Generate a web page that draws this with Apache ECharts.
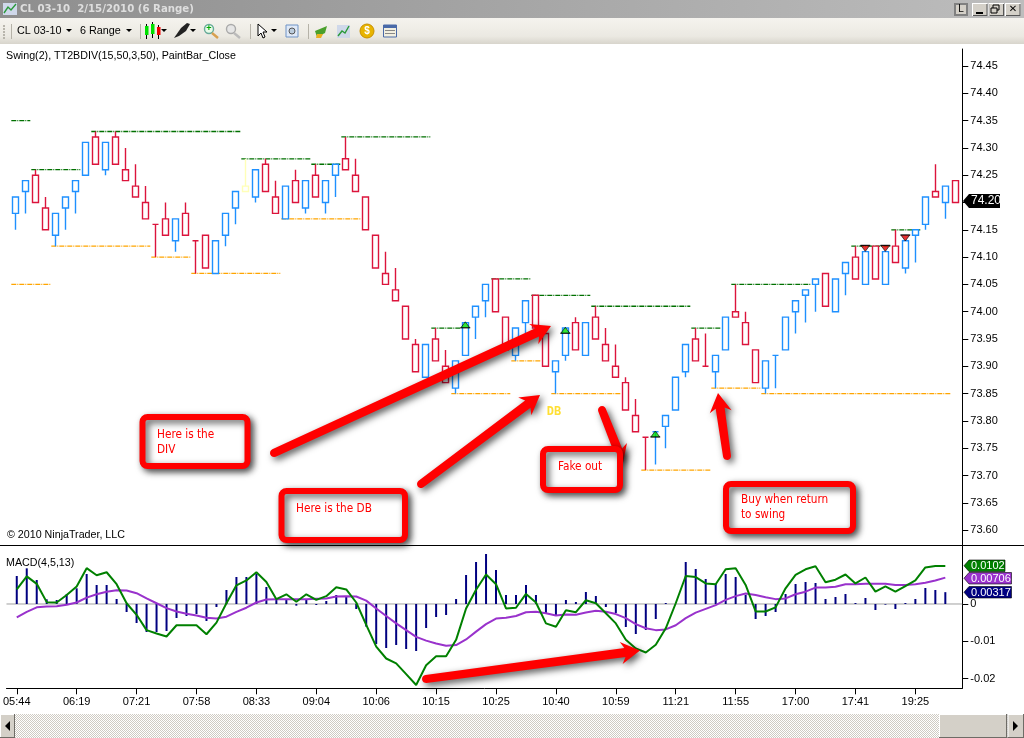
<!DOCTYPE html>
<html><head><meta charset="utf-8">
<style>html,body{margin:0;padding:0;background:#fff}#c{width:1024px;height:738px}</style>
<script src="https://cdn.jsdelivr.net/npm/echarts@6/dist/echarts.min.js"></script>
</head><body><div id="c"></div>
<script>
// ---- data ----
const barOpen  = [74.18,74.22,74.25,74.19,74.14,74.19,74.22,74.25,74.32,74.26,74.32,74.26,74.23,74.20,74.16,74.17,74.13,74.18,74.13,74.14,74.07,74.14,74.19,74.22,74.21,74.27,74.21,74.17,74.24,74.19,74.25,74.20,74.25,74.28,74.25,74.21,74.14,74.07,74.04,74.01,73.94,73.88,73.95,73.90,73.86,73.92,73.99,74.02,74.06,73.99,73.92,73.98,74.03,73.96,73.89,73.92,73.98,73.92,73.99,73.94,73.90,73.87,73.81,73.77,73.78,73.79,73.82,73.89,73.95,73.90,73.89,73.93,74.00,73.98,73.93,73.86,73.92,73.93,74.00,74.03,74.05,74.07,74.00,74.07,74.10,74.05,74.12,74.05,74.12,74.08,74.14,74.16,74.22,74.20,74.24];
const barClose = [74.21,74.24,74.20,74.15,74.18,74.21,74.24,74.31,74.27,74.31,74.27,74.24,74.21,74.17,74.16,74.14,74.17,74.14,74.13,74.08,74.13,74.18,74.22,74.23,74.26,74.22,74.18,74.23,74.20,74.24,74.21,74.24,74.27,74.26,74.22,74.15,74.08,74.05,74.02,73.95,73.89,73.94,73.91,73.87,73.91,73.98,74.01,74.05,74.00,73.93,73.97,74.02,73.97,73.90,73.91,73.97,73.93,73.98,73.95,73.91,73.88,73.82,73.78,73.77,73.78,73.81,73.88,73.94,73.91,73.90,73.92,73.99,73.99,73.94,73.87,73.91,73.92,73.99,74.02,74.04,74.06,74.01,74.06,74.09,74.06,74.11,74.06,74.11,74.09,74.13,74.15,74.21,74.21,74.23,74.20];
const barLow   = [74.15,74.18,74.20,74.15,74.12,74.15,74.18,74.25,74.27,74.25,74.27,74.24,74.21,74.17,74.10,74.14,74.11,74.14,74.07,74.08,74.07,74.12,74.16,74.22,74.20,74.22,74.18,74.17,74.20,74.18,74.21,74.18,74.21,74.26,74.22,74.15,74.08,74.05,74.02,73.95,73.89,73.88,73.91,73.87,73.85,73.92,73.95,73.99,74.00,73.93,73.91,73.96,73.97,73.90,73.85,73.91,73.93,73.92,73.95,73.91,73.88,73.82,73.78,73.71,73.72,73.75,73.82,73.88,73.91,73.90,73.86,73.93,73.99,73.94,73.87,73.85,73.86,73.93,73.96,73.98,74.00,74.01,74.00,74.03,74.06,74.05,74.06,74.05,74.09,74.07,74.09,74.15,74.21,74.17,74.20];
const barHigh  = [74.21,74.24,74.26,74.21,74.18,74.21,74.24,74.31,74.33,74.31,74.33,74.30,74.27,74.23,74.16,74.20,74.17,74.20,74.13,74.14,74.13,74.18,74.22,74.28,74.26,74.28,74.24,74.23,74.26,74.24,74.27,74.24,74.27,74.32,74.28,74.21,74.14,74.11,74.08,74.01,73.95,73.94,73.97,73.93,73.91,73.98,74.01,74.05,74.06,73.99,73.97,74.02,74.03,73.96,73.91,73.97,73.99,73.98,74.01,73.97,73.94,73.88,73.84,73.77,73.78,73.81,73.88,73.94,73.97,73.96,73.92,73.99,74.05,74.00,73.93,73.91,73.92,73.99,74.02,74.04,74.06,74.07,74.06,74.09,74.12,74.11,74.12,74.11,74.15,74.13,74.15,74.21,74.27,74.23,74.24];
const dojiUpBars = [64,76];          // doji bars drawn blue (others red)
const paleBars   = [23];             // bar painted pale yellow

const macdHist = [.0075,.00955,.00643,.00125,.00107,.00268,.0042,.00804,.00509,.00509,.00134,-.00214,-.00509,-.0075,-.0075,-.00723,-.00375,-.00321,-.00268,-.00455,-.0008,.00375,.00723,.00723,.00804,.00455,.00152,.00125,-.00045,.00125,-.00027,.0008,.00241,.00214,-.00134,-.00607,-.01071,-.01179,-.01098,-.01205,-.01259,-.00643,-.00348,-.00295,.00134,.00777,.01125,.01339,.00911,.00241,.00241,.00509,.00241,-.00241,-.00295,.00107,.00054,.00321,.00214,-.0008,-.00241,-.00616,-.00804,-.00696,-.00402,.00027,0,.01125,.00938,.0067,.00536,.00804,.00723,.00241,-.00402,-.00321,-.00214,.00268,.00536,.00589,.00563,.00134,.00188,.00268,.00027,.00161,-.00161,-.00018,-.00134,.00027,.00134,.00429,.00375,.00317];
const macdLine = [.0039,.0074,.0054,.0005,.0004,.0024,.0047,.0096,.0077,.0085,.0053,.0002,-.0029,-.0070,-.0079,-.0087,-.0057,-.0057,-.0057,-.0081,-.0050,.0002,.0050,.0063,.0085,.0059,.0013,.0026,.0006,.0026,.0011,.0021,.0045,.0039,.0004,-.0056,-.0114,-.0146,-.0159,-.0188,-.0217,-.0164,-.0140,-.0140,-.0096,-.0012,.0038,.0079,.0053,-.0012,-.0010,.0027,.0004,-.0052,-.0061,-.0017,-.0022,.0010,.0002,-.0025,-.0052,-.0096,-.0119,-.0130,-.0109,-.0065,.0002,.0075,.0072,.0055,.0053,.0093,.0096,.0051,-.0020,-.0020,-.0009,.0042,.0078,.0093,.0101,.0058,.0065,.0079,.0055,.0071,.0033,.0047,.0033,.0048,.0063,.0098,.0102,.0102];
const macdAvg  = [-.0036,-.0021,-.0009,-.0007,-.0006,-.0002,.0004,.0017,.0026,.0033,.0037,.0036,.0029,.0015,.0002,-.0011,-.0020,-.0026,-.0031,-.0037,-.0039,-.0034,-.0021,-.0010,.0004,.0012,.0013,.0013,.0013,.0013,.0014,.0015,.0020,.0021,.0020,.0009,-.0012,-.0032,-.0052,-.0070,-.0088,-.0098,-.0106,-.0112,-.0110,-.0095,-.0074,-.0054,-.0039,-.0037,-.0032,-.0022,-.0021,-.0025,-.0031,-.0028,-.0029,-.0023,-.0018,-.0021,-.0027,-.0038,-.0054,-.0065,-.0070,-.0068,-.0057,-.0038,-.0023,-.0013,-.0003,.0011,.0021,.0028,.0024,.0018,.0013,.0015,.0026,.0033,.0044,.0044,.0046,.0053,.0053,.0054,.0054,.0054,.0051,.0051,.0053,.0057,.0063,.00706];

// swing levels: [first bar, last bar, price]
const swingHigh = [[-.4,1.5,74.35],[1.6,6.5,74.26],[7.6,22.5,74.33],[22.6,29.5,74.28],[29.6,32.5,74.27],[32.6,41.5,74.32],[41.6,44.5,73.97],[47.6,51.5,74.06],[51.6,57.5,74.03],[57.6,67.5,74.01],[67.6,70.5,73.97],[71.6,79.5,74.05],[83.6,87.5,74.12],[87.6,90.5,74.15]];
const swingLow  = [[-.4,3.5,74.05],[3.6,13.5,74.12],[13.6,17.5,74.10],[17.6,26.5,74.07],[26.6,34.5,74.17],[43.6,49.5,73.85],[49.6,52.5,73.91],[53.6,60.5,73.85],[62.6,69.5,73.71],[69.6,74.5,73.86],[74.6,93.5,73.85]];
const buySignals  = [[45,73.976],[55,73.966],[64,73.776]];
const sellSignals = [[85,74.116],[87,74.116],[89,74.135]];
const dbLabel = [53.87,73.817];

const timeTicks  = [0,6,12,18,24,30,36,42,48,54,60,66,72,78,84,90];
const timeLabels = ['05:44','06:19','07:21','07:58','08:33','09:04','10:06','10:15','10:25','10:40','10:59','11:21','11:55','17:00','17:41','19:25'];
const priceTicks = [73.60,73.65,73.70,73.75,73.80,73.85,73.90,73.95,74.00,74.05,74.10,74.15,74.20,74.25,74.30,74.35,74.40,74.45];
const macdTicks  = [-0.02,-0.01,0];

const lastPrice = '74.20';
const macdTags = [['0.0102','#008000',560,1005],['0.00706','#9932CC',572.5,1011.5],['0.00317','#000080',586.5,1011.5]];

// ---- annotations (screen notes drawn over the chart) ----
const noteBoxes = [
  [139.5,414,111,55,['Here is the','DIV'],157,435,15],
  [278.5,488,129.5,55,['Here is the DB'],296,509,15],
  [540,446,83,47,['Fake out'],558,467,15],
  [723,481,133,53,['Buy when return','to swing'],741,500,15]
];
const noteArrows = [
  [274,453,551,326],[421,484,540,395],[602,410,623,463],[727,456,718,393],[426,679,640,650.5]
];

// ---- series ----
const RED='#DC143C', BLUE='#1E90FF', PALE='#FFFFB8', FONT='"Liberation Sans",Arial,sans-serif';
const XMIN=-1.03, XMAX=94.7;
const candleData = barOpen.map((o,i)=>{
  const c=barClose[i];
  let col = c>o?BLUE:c<o?RED:(dojiUpBars.includes(i)?BLUE:RED);
  if(paleBars.includes(i)) col=PALE;
  return {value:[i,o,c,barLow[i],barHigh[i]],
    itemStyle:{color:'#fff',color0:'#fff',colorDoji:'#fff',borderColor:col,borderColor0:col,borderColorDoji:col,borderWidth:1.4}};
});
const levelSeries=(arr,color)=>arr.map(s=>({type:'line',xAxisIndex:0,yAxisIndex:0,data:[[s[0],s[2]],[s[1],s[2]]],
  symbol:'none',silent:true,z:3,lineStyle:{color,width:1.3,type:[5,1,1,1]}}));
const series=[
  ...levelSeries(swingHigh,'#007000'),
  ...levelSeries(swingLow,'#FFA500'),
  {type:'candlestick',xAxisIndex:0,yAxisIndex:0,barWidth:6,z:4,data:candleData,encode:{x:0,y:[1,2,3,4]}},
  {type:'scatter',xAxisIndex:0,yAxisIndex:0,z:6,symbol:'triangle',symbolSize:[9,6],data:buySignals,
    itemStyle:{color:'#00E000',borderColor:'#000',borderWidth:.8}},
  {type:'scatter',xAxisIndex:0,yAxisIndex:0,z:6,symbol:'rect',symbolSize:[10,1],symbolOffset:[0,3],data:buySignals,itemStyle:{color:'#000'}},
  {type:'scatter',xAxisIndex:0,yAxisIndex:0,z:6,symbol:'triangle',symbolRotate:180,symbolSize:[9,6],data:sellSignals,
    itemStyle:{color:'#E00000',borderColor:'#000',borderWidth:.8}},
  {type:'scatter',xAxisIndex:0,yAxisIndex:0,z:6,symbol:'rect',symbolSize:[10,1],symbolOffset:[0,-3],data:sellSignals,itemStyle:{color:'#000'}},
  {type:'scatter',xAxisIndex:0,yAxisIndex:0,z:5,symbolSize:1,itemStyle:{color:'rgba(0,0,0,0)'},data:[dbLabel],
    label:{show:true,position:'inside',formatter:'DB',color:'#FFD700',fontFamily:'"DejaVu Sans Mono",monospace',fontWeight:'bold',fontSize:12}},
  {type:'line',xAxisIndex:1,yAxisIndex:1,data:[[XMIN,0],[XMAX,0]],symbol:'none',silent:true,z:2,lineStyle:{color:'#a0a0a0',width:1}},
  {type:'bar',xAxisIndex:1,yAxisIndex:1,barWidth:2,z:3,data:macdHist.map((v,i)=>[i,v]),itemStyle:{color:'#000080'}},
  {type:'line',xAxisIndex:1,yAxisIndex:1,z:4,data:macdAvg.map((v,i)=>[i,v]),symbol:'none',lineStyle:{color:'#9932CC',width:2}},
  {type:'line',xAxisIndex:1,yAxisIndex:1,z:5,data:macdLine.map((v,i)=>[i,v]),symbol:'none',lineStyle:{color:'#008000',width:2}}
];

// ---- graphic helpers ----
const g=[];
const rect=(x,y,w,h,fill,extra={})=>g.push({type:'rect',z:extra.z||200,silent:true,shape:{x,y,width:w,height:h},style:{fill}});
const text=(x,y,t,o={})=>g.push({type:'text',z:o.z||210,silent:true,x,y,style:{text:t,fill:o.fill||'#000',font:o.font||('10.7px '+FONT),textVerticalAlign:'middle',textBaseline:'middle',textAlign:o.align||'left'}});
const poly=(pts,fill,o={})=>g.push({type:'polygon',z:o.z||205,silent:true,shape:{points:pts},style:{fill,...o}});
const vline=(x,y0,y1,c='#aaa')=>rect(x,y0,1,y1-y0,c);
const caret=(x,y)=>poly([[x-3,y-2],[x+3,y-2],[x,y+1]],'#000');

// window chrome
g.push({type:'rect',z:200,silent:true,shape:{x:0,y:0,width:1024,height:18},style:{fill:new echarts.graphic.LinearGradient(0,0,1,0,[{offset:0,color:'#8e8e8e'},{offset:1,color:'#bdbdbd'}])}});
g.push({type:'rect',z:200,silent:true,shape:{x:0,y:18,width:1024,height:26},style:{fill:new echarts.graphic.LinearGradient(0,0,0,1,[{offset:0,color:'#f5f3ee'},{offset:.7,color:'#ebe9e2'},{offset:1,color:'#d8d5cc'}])}});
rect(3,3,14,12,'#cfd8ea'); g.push({type:'polyline',z:205,silent:true,shape:{points:[[4,13],[8,7],[11,10],[16,4]]},style:{stroke:'#2a9a3a',lineWidth:1.4,fill:null}});
text(20,9,'CL 03-10  2/15/2010 (6 Range)',{fill:'#dedede',font:'bold 10.2px "DejaVu Sans",sans-serif'});
// window buttons
rect(954,3,14,13,'#808080'); rect(956,5,10,9,'#d4d0c8'); text(961,9.5,'L',{align:'center',font:'10px '+FONT});
[972,988.5,1005].forEach(x=>{
  rect(x,3,15.5,13,'#ffffff'); rect(x+1,4,14.5,12,'#555'); rect(x+1,4,13.5,11,'#d4d0c8');
});
rect(976,12,7,2,'#000');
g.push({type:'rect',z:206,silent:true,shape:{x:993,y:5,width:6,height:5},style:{fill:'#d4d0c8',stroke:'#000',lineWidth:1}});
g.push({type:'rect',z:207,silent:true,shape:{x:991,y:8,width:6,height:5},style:{fill:'#d4d0c8',stroke:'#000',lineWidth:1}});
text(1013,9.5,'✕',{align:'center',font:'bold 10px "DejaVu Sans",sans-serif'});
// toolbar
[25,28,31,34,37].forEach(y=>rect(3,y,2,2,'#b8b5ac'));
[11,140,250,308].forEach(x=>vline(x,24,39,'#b5b2a8'));
text(17,31,'CL 03-10',{font:'10.8px '+FONT}); caret(69,31);
text(80,31,'6 Range',{font:'10.8px '+FONT}); caret(129,31);
[[145,'#00e000',26,37],[151,'#00e000',24,36],[157,'#f00000',27,37]].forEach(c=>{vline(c[0]+1,c[2]-2,c[3]+2,'#000');rect(c[0],c[2],3.5,c[3]-c[2]-2,c[1],{z:201});});
caret(164,31);
poly([[174,38],[181,28],[187,23],[190,24],[186,31],[179,36]],'#222'); caret(193,31);
g.push({type:'circle',z:205,silent:true,shape:{cx:209,cy:29,r:4.5},style:{fill:'#e8fbe8',stroke:'#6a9',lineWidth:1.4}});
text(209,29,'+',{align:'center',fill:'#0a0',font:'bold 9px '+FONT});
g.push({type:'line',z:205,silent:true,shape:{x1:212,y1:33,x2:218,y2:38},style:{stroke:'#d8a050',lineWidth:2.4}});
g.push({type:'circle',z:205,silent:true,shape:{cx:231,cy:29,r:4.5},style:{fill:'#e6e6e6',stroke:'#aaa',lineWidth:1.4}});
g.push({type:'line',z:205,silent:true,shape:{x1:234,y1:33,x2:240,y2:38},style:{stroke:'#bbb',lineWidth:2.4}});
poly([[258,24],[258,36],[261,33],[263,38],[265,37],[263,32],[267,32]],'#fff',{stroke:'#000',lineWidth:1}); caret(274,31);
g.push({type:'rect',z:205,silent:true,shape:{x:286,y:25,width:12,height:12},style:{fill:'#dfe9f7',stroke:'#6f93c6',lineWidth:1}});
g.push({type:'circle',z:206,silent:true,shape:{cx:292,cy:31,r:3},style:{fill:'#bcd',stroke:'#555',lineWidth:1}});
poly([[315,31],[327,26],[325,33],[317,37]],'#4aa02c'); poly([[317,34],[323,34],[321,38],[316,38]],'#e8b020');
rect(337,25,13,13,'#cfd8ea'); g.push({type:'polyline',z:205,silent:true,shape:{points:[[338,36],[342,31],[345,33],[349,26]]},style:{stroke:'#2a9a3a',lineWidth:1.4,fill:null}});
g.push({type:'circle',z:205,silent:true,shape:{cx:367,cy:31,r:7},style:{fill:'#e8b400',stroke:'#c89000',lineWidth:1}});
text(367,31,'$',{align:'center',fill:'#fff',font:'bold 10px '+FONT});
g.push({type:'rect',z:205,silent:true,shape:{x:383.5,y:25,width:13,height:12},style:{fill:'#f2efe0',stroke:'#4a6aa8',lineWidth:1}});
rect(384,25,12,3,'#4a6aa8',{z:206}); [30,33].forEach(y=>rect(385,y,10,1,'#888',{z:206}));

// scrollbar
const pc=document.createElement('canvas'); pc.width=pc.height=2;
const pctx=pc.getContext('2d'); pctx.fillStyle='#fff'; pctx.fillRect(0,0,2,2); pctx.fillStyle='#cfcbc3'; pctx.fillRect(0,0,1,1); pctx.fillRect(1,1,1,1);
g.push({type:'rect',z:200,silent:true,shape:{x:0,y:714,width:1024,height:24},style:{fill:{image:pc,repeat:'repeat'}}});
[[0,15],[939,68],[1007.5,16.5]].forEach(b=>{rect(b[0],714,b[1],24,'#6e6c66',{z:201});rect(b[0],714,b[1]-1,23,'#fff',{z:202});rect(b[0]+1,715,b[1]-2,22,'#d4d0c8',{z:203});});
poly([[5,726],[10,721],[10,731]],'#000'); poly([[1018,726],[1013,721],[1013,731]],'#000');

// panel rule and captions
rect(0,545,1024,1,'#000');
text(6,56,'Swing(2), TT2BDIV(15,50,3,50), PaintBar_Close');
text(7,535,'© 2010 NinjaTrader, LLC');
text(6,563,'MACD(4,5,13)');

// value tags
poly([[963,201],[969,194],[1000,194],[1000,208],[969,208]],'#000');
text(971,201,lastPrice,{fill:'#fff',font:'12px '+FONT});
macdTags.forEach(t=>{
  const y=t[2],h=11.5,xr=t[3];
  poly([[964,y+h/2],[969,y],[xr,y],[xr,y+h],[969,y+h]],t[1],{stroke:'#000',lineWidth:.6});
  text(971,y+h/2+.3,t[0],{fill:'#fff',font:'11px '+FONT});
});

// red arrows with drop shadow
const SH={shadowBlur:7,shadowColor:'rgba(0,0,0,.65)',shadowOffsetX:3,shadowOffsetY:3};
noteArrows.forEach(a=>{
  const [x0,y0,x1,y1]=a, L=Math.hypot(x1-x0,y1-y0), ux=(x1-x0)/L, uy=(y1-y0)/L, nx=-uy, ny=ux;
  const w=4, hw=Math.min(11,L*.2+5), hl=Math.min(19,L*.3), neck=L-hl*.8, barb=L-hl;
  const P=(d,s)=>[x0+ux*d+nx*s,y0+uy*d+ny*s];
  const pts=[];
  for(let k=0;k<=8;k++){const t=-Math.PI/2-k/8*Math.PI; pts.push(P(Math.cos(t)*w,-Math.sin(t)*w));}
  poly([...pts,P(neck,-w-.5),P(barb,-hw),P(L,0),P(barb,hw),P(neck,w+.5)],'#FF0000',{...SH,z:220});
});
// note boxes
noteBoxes.forEach(b=>{
  g.push({type:'rect',z:225,silent:true,shape:{x:b[0]+3,y:b[1]+3,width:b[2]-6,height:b[3]-6,r:5},
    style:{fill:'#fff',stroke:'#FF0000',lineWidth:6,...SH}});
  b[4].forEach((t,i)=>text(b[5],b[6]+i*b[7],t,{z:230,fill:'#FF0000',font:'11.7px "DejaVu Sans Condensed","DejaVu Sans",sans-serif'}));
});

const axisBase={min:XMIN,max:XMAX,type:'value',splitLine:{show:false}};
const chart=echarts.init(document.getElementById('c'),null,{renderer:'canvas'});
chart.setOption({
  animation:false,backgroundColor:'#fff',
  grid:[{left:5,top:49,width:957.3,height:496,containLabel:false},{left:5,top:545,width:957.3,height:143.3,containLabel:false}],
  xAxis:[
    {...axisBase,gridIndex:0,show:false},
    {...axisBase,gridIndex:1,position:'bottom',
      axisLine:{show:true,onZero:false,lineStyle:{color:'#000',width:1}},
      axisTick:{show:true,length:6,customValues:timeTicks,lineStyle:{color:'#000',width:1}},
      axisLabel:{show:true,customValues:timeTicks,margin:8,color:'#000',fontSize:11,fontFamily:FONT,
        formatter:v=>timeLabels[timeTicks.indexOf(v)]}}
  ],
  yAxis:[
    {type:'value',gridIndex:0,position:'right',min:73.5727,max:74.4811,splitLine:{show:false},
      axisLine:{show:true,onZero:false,lineStyle:{color:'#000',width:1}},
      axisTick:{show:true,length:6,customValues:priceTicks,lineStyle:{color:'#000'}},
      axisLabel:{show:true,customValues:priceTicks,margin:8,color:'#000',fontSize:11,fontFamily:FONT,formatter:v=>v.toFixed(2)}},
    {type:'value',gridIndex:1,position:'right',min:-0.02258,max:0.0158,splitLine:{show:false},
      axisLine:{show:true,onZero:false,lineStyle:{color:'#000',width:1}},
      axisTick:{show:true,length:6,customValues:macdTicks,lineStyle:{color:'#000'}},
      axisLabel:{show:true,customValues:macdTicks,margin:8,color:'#000',fontSize:11,fontFamily:FONT,formatter:v=>v===0?'0':String(v)}}
  ],
  series,
  graphic:{elements:g}
});
</script></body></html>
